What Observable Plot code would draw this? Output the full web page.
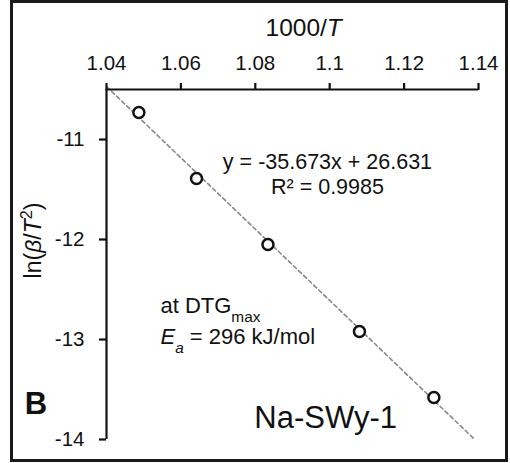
<!DOCTYPE html>
<html><head><meta charset="utf-8">
<script src="https://cdn.jsdelivr.net/npm/d3@7"></script>
<script src="https://cdn.jsdelivr.net/npm/@observablehq/plot@0.6"></script>
<style>
body{margin:0;background:#fff;}
#wrap{position:relative;width:510px;height:463px;}
#border{position:absolute;left:10px;top:0px;width:498px;height:462px;border:3px solid #1a1a1a;box-sizing:border-box;pointer-events:none;}
</style></head><body>
<div id="wrap"><div id="chart"></div><div id="border"></div></div>
<script>
// data
const invT = [1.0487, 1.0642, 1.0834, 1.1080, 1.1280];
const lnBetaT2 = [-10.73, -11.39, -12.05, -12.92, -13.58];
const fitX = [1.04, 1.1387];
const fitY = [-10.47, -13.99];
const xTicks = [1.04, 1.06, 1.08, 1.1, 1.12, 1.14];
const yTicks = [-11, -12, -13, -14];
const xLabel = "1000/T";
const yLabel = "ln(β/T2)";
const annoText = ["y = -35.673x + 26.631", "R² = 0.9985", "at DTGmax", "Ea = 296 kJ/mol", "B", "Na-SWy-1"];
const annoX = [1.0994, 1.0994, 1.0545, 1.0545, 1.0180, 1.0989];
const annoY = [-11.29, -11.54, -12.73, -13.04, -13.74, -13.88];

const points = invT.map((x, i) => ({x, y: lnBetaT2[i]}));
const fit = fitX.map((x, i) => ({x, y: fitY[i]}));
const annos = annoText.map((t, i) => ({t, x: annoX[i], y: annoY[i]}));

const rich = {
  "1000/T": '1000/<tspan font-style="italic">T</tspan>',
  "ln(β/T2)": 'ln(<tspan font-style="italic">β</tspan>/<tspan font-style="italic">T</tspan><tspan baseline-shift="super" font-size="0.7em">2</tspan>)',
  "at DTGmax": 'at DTG<tspan baseline-shift="sub" font-size="0.7em">max</tspan>',
  "Ea = 296 kJ/mol": '<tspan font-style="italic">E</tspan><tspan font-style="italic" baseline-shift="sub" font-size="0.7em">a</tspan><tspan> = 296 kJ/mol</tspan>'
};

const font = "'Liberation Sans', Arial, sans-serif";
const chart = Plot.plot({
  width: 510,
  height: 463,
  marginTop: 89,
  marginLeft: 106,
  marginRight: 32,
  marginBottom: 24,
  style: {fontFamily: font, fontSize: "20.5px", color: "#111", background: "white"},
  x: {domain: [1.04, 1.14]},
  y: {domain: [-14, -10.5]},
  marks: [
    Plot.line(fit, {x: "x", y: "y", stroke: "#888", strokeWidth: 1.6, strokeDasharray: "4,3"}),
    Plot.ruleY([-10.5], {stroke: "#111", strokeWidth: 2.2}),
    Plot.ruleX([1.04], {stroke: "#111", strokeWidth: 2.2}),
    Plot.axisX(xTicks, {anchor: "top", tickSize: 7, tickPadding: 13, strokeWidth: 2.2, fontSize: 20.5, tickFormat: d => String(d), label: null}),
    Plot.axisY(yTicks, {anchor: "left", tickSize: 7, tickPadding: 15, strokeWidth: 2.2, fontSize: 20.5, tickFormat: d => String(d), label: null}),
    Plot.dot(points, {x: "x", y: "y", r: 5.5, stroke: "#111", strokeWidth: 2.5, fill: "white"}),
    Plot.text([xLabel], {x: 1.093, y: -9.96, text: d => d, fontSize: 24.5, lineAnchor: "bottom", textAnchor: "middle"}),
    Plot.text([yLabel], {x: 1.0204, y: -12.01, text: d => d, fontSize: 23, rotate: -90, textAnchor: "middle", lineAnchor: "middle"}),
    Plot.text(annos.slice(0, 2), {x: "x", y: "y", text: "t", fontSize: 21.5, lineAnchor: "bottom", textAnchor: "middle"}),
    Plot.text(annos.slice(2, 4), {x: "x", y: "y", text: "t", fontSize: 22, lineAnchor: "bottom", textAnchor: "start"}),
    Plot.text(annos.slice(4, 5), {x: "x", y: "y", text: "t", fontSize: 31, fontWeight: "bold", lineAnchor: "bottom", textAnchor: "start"}),
    Plot.text(annos.slice(5, 6), {x: "x", y: "y", text: "t", fontSize: 31, lineAnchor: "bottom", textAnchor: "middle"})
  ]
});
document.getElementById("chart").appendChild(chart);
d3.select(chart).selectAll("text").each(function() {
  const t = this.textContent;
  if (rich[t] && this.children.length === 0) this.innerHTML = rich[t];
});
</script>
</body></html>
